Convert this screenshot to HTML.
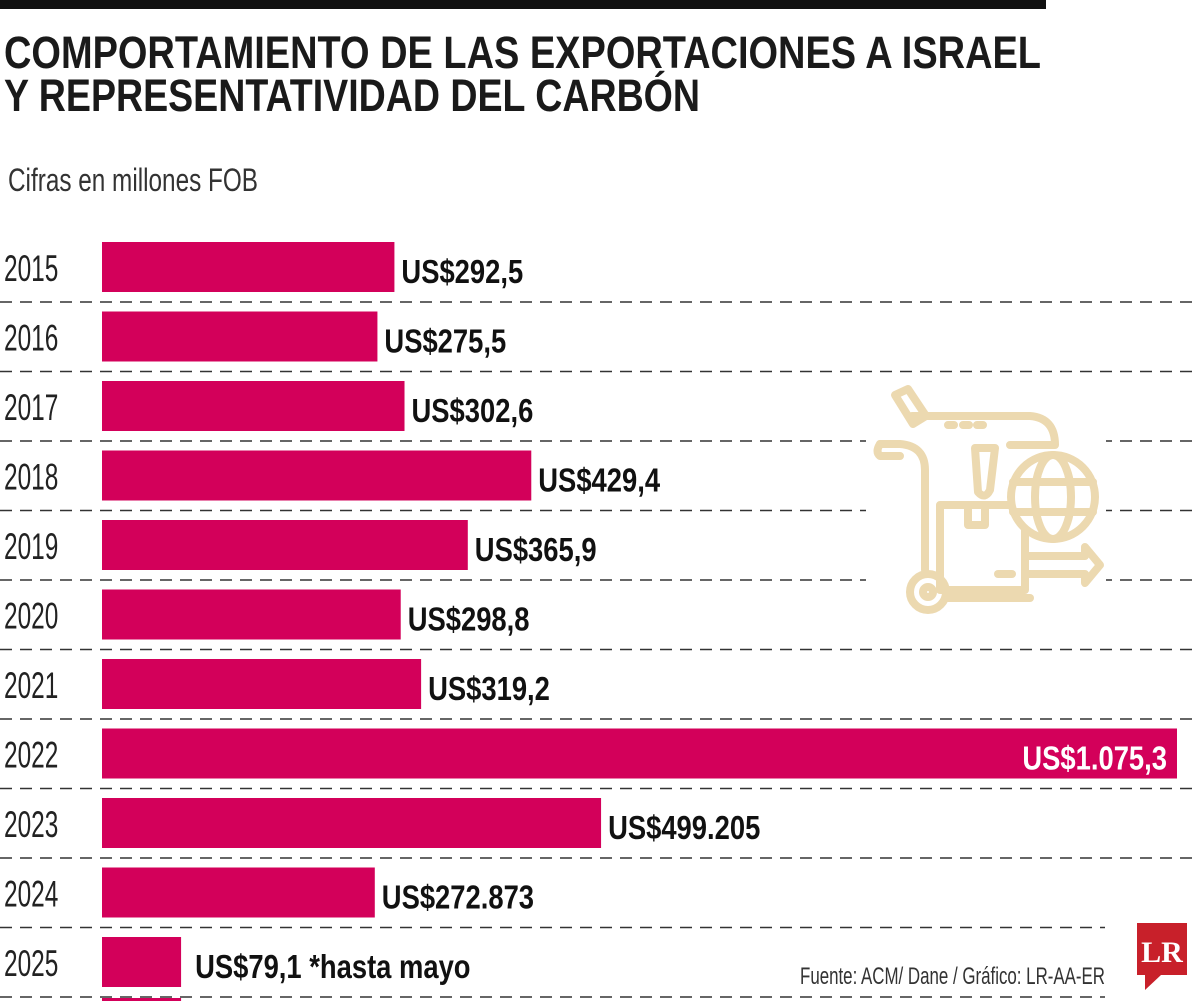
<!DOCTYPE html>
<html><head><meta charset="utf-8"><style>
html,body{margin:0;padding:0;background:#fff;}
svg{display:block;}
</style></head><body>
<svg id="chart" width="1200" height="1001" viewBox="0 0 1200 1001" xmlns="http://www.w3.org/2000/svg" font-family="'Liberation Sans Narrow','Liberation Sans',sans-serif">
<rect x="0" y="0" width="1046" height="9" fill="#111"/>
<text x="4" y="68" font-size="45" font-weight="bold" fill="#1a1a1a" textLength="1037" lengthAdjust="spacingAndGlyphs">COMPORTAMIENTO DE LAS EXPORTACIONES A ISRAEL</text>
<text x="4" y="111" font-size="45" font-weight="bold" fill="#1a1a1a" textLength="696" lengthAdjust="spacingAndGlyphs">Y REPRESENTATIVIDAD DEL CARBÓN</text>
<text x="8" y="191" font-size="32" fill="#333" textLength="250" lengthAdjust="spacingAndGlyphs">Cifras en millones FOB</text>
<g id="grid"></g>
<g id="icon" fill="none" stroke="#ecd9b0" stroke-width="8" stroke-linejoin="round" stroke-linecap="round">
<rect x="866" y="430" width="240" height="165" fill="#fff" stroke="none"/>
<path d="M895 395 L908 389 L926 416 L913 424 Z"/>
<path d="M912 416 L1030 416 Q1055 418 1055 445 L1010 445"/>
<path d="M880 444 L900 444 Q925 446 925 470 L925 570"/>
<path d="M880 444 Q875 452 880 456 L900 456"/>
<path d="M975 448 L995 448 L990 490 Q985 500 978 492 Z"/>
<rect x="940" y="505" width="85" height="85"/>
<path d="M968 505 L968 525 L985 525 L985 505"/>
<path d="M998 574 L1012 574"/>
<circle cx="1053" cy="497" r="42" fill="#fff"/>
<ellipse cx="1053" cy="497" rx="18" ry="42"/>
<path d="M1013 482 L1093 482 M1013 512 L1093 512"/>
<path d="M1025 556 L1085 556 L1085 547 L1100 565 L1085 583 L1085 574 L1025 574"/>
<circle cx="928" cy="592" r="18"/>
<circle cx="928" cy="592" r="5"/>
<path d="M946 598 L1030 598"/>
<path d="M948 425 L954 425 M963 425 L969 425 M977 425 L983 425"/>
</g>
<g id="bars"></g>
<text x="800" y="984" font-size="24" fill="#333" textLength="305" lengthAdjust="spacingAndGlyphs">Fuente: ACM/ Dane / Gráfico: LR-AA-ER</text>
<g>
<path d="M1137 923 L1187 923 L1187 975 L1161 975 L1145 990 L1145 975 L1137 975 Z" fill="#c8202a"/>
<text x="1162" y="962" font-family="'Liberation Serif',serif" font-weight="bold" font-size="30" fill="#fff" text-anchor="middle">LR</text>
</g>
</svg>
<script>
const years = ['2015','2016','2017','2018','2019','2020','2021','2022','2023','2024','2025'];
const values = [292.5,275.5,302.6,429.4,365.9,298.8,319.2,1075.3,499.205,272.873,79.1];
const valueLabels = ['US$292,5','US$275,5','US$302,6','US$429,4','US$365,9','US$298,8','US$319,2','US$1.075,3','US$499.205','US$272.873','US$79,1 *hasta mayo'];

const NS='http://www.w3.org/2000/svg';
const x0=102, scale=(1177-102)/1075.3, top0=242, step=69.5, bh=50;
const xPos=v=>x0+v*scale;
const yPos=i=>top0+i*step;
const bars=document.getElementById('bars'), grid=document.getElementById('grid');
function mk(tag,attrs,parent){const e=document.createElementNS(NS,tag);for(const k in attrs)e.setAttribute(k,attrs[k]);parent.appendChild(e);return e;}
years.forEach((yr,i)=>{
  const y=yPos(i);
  const ln=mk('line',{x1:0,x2:(i>=9?1105:1200),y1:y+60,y2:y+60,stroke:'#333','stroke-width':1.5,'stroke-dasharray':'12 8'},grid);
  
  
  const r=mk('rect',{x:x0,y:y,width:xPos(values[i])-x0,height:bh,fill:'#d3005a'},bars);
  
  
  const yl=mk('text',{transform:`translate(4,${y+39}) scale(0.66,1)`,'font-family':"'Liberation Sans',sans-serif",'font-size':37,fill:'#222'},bars);
  yl.textContent=yr;
  
  
  const end=xPos(values[i]);
  const inside = end>1000;
  const lx = inside? end-10 : (i===10? end+14 : end+7);
  const vl=mk('text',{transform:`translate(${lx},${y+41}) scale(0.83,1)`,'font-family':"'Liberation Sans',sans-serif",'font-weight':'bold','font-size':33,fill:inside?'#fff':'#111','text-anchor':inside?'end':'start'},bars);
  vl.textContent=valueLabels[i];
  
  
});
const extra=mk('rect',{x:x0,y:998,width:xPos(values[10])-x0,height:3,fill:'#d3005a'},bars);


</script>
</body></html>
